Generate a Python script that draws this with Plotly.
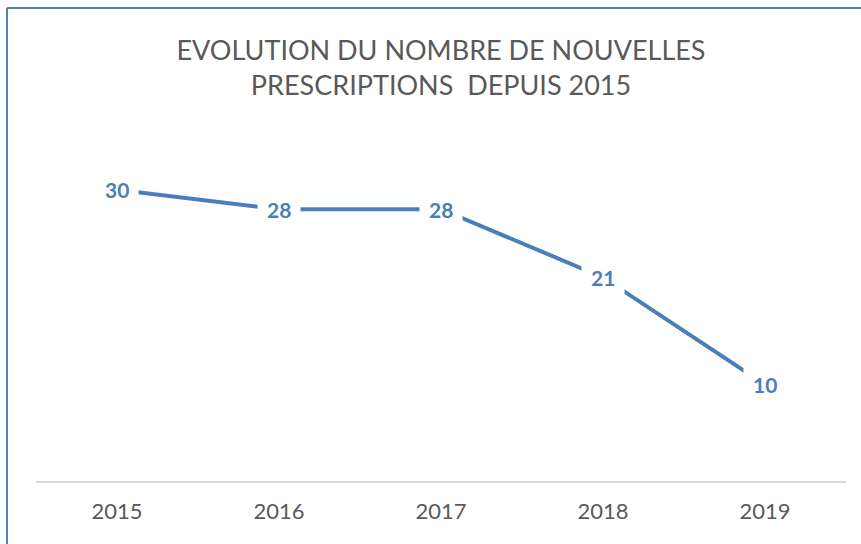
import plotly.graph_objects as go

years = ["2015", "2016", "2017", "2018", "2019"]
prescriptions = [30, 28, 28, 21, 10]

title_lines = ["EVOLUTION DU NOMBRE DE NOUVELLES", "PRESCRIPTIONS  DEPUIS 2015"]

line_color = "#4A7EBB"
text_gray = "#595959"
font_family = "Lato, 'Open Sans', sans-serif"

fig = go.Figure()
fig.add_trace(go.Scatter(
    x=years, y=prescriptions, mode="lines",
    line=dict(color=line_color, width=4),
    hoverinfo="skip", showlegend=False,
))

# value labels centred on the points, on a white box that cuts the line
# (category index used as x so numeric-looking year names are not read as positions)
for i, v in enumerate(prescriptions):
    fig.add_annotation(
        x=i, y=v, xref="x", yref="y", text=f"<b>{v}</b>",
        showarrow=False, bgcolor="white", borderpad=9,
        font=dict(family=font_family, size=21, color=line_color),
    )

# chart frame (top and left edges visible)
fig.add_shape(type="line", xref="paper", yref="paper",
              x0=(7 - 36) / 810, x1=1.2, y0=(482 - 8) / 341, y1=(482 - 8) / 341,
              line=dict(color="#4F81BD", width=2))
fig.add_shape(type="line", xref="paper", yref="paper",
              x0=(7 - 36) / 810, x1=(7 - 36) / 810, y0=(482 - 8) / 341, y1=-0.3,
              line=dict(color="#4F81BD", width=2))

fig.update_layout(
    width=861, height=544,
    margin=dict(l=36, r=15, t=141, b=62),
    paper_bgcolor="white", plot_bgcolor="white",
    title=dict(
        text="<br>".join(title_lines),
        x=0.5, xref="paper", xanchor="center",
        y=1 - 60 / 544, yref="container", yanchor="top",
        font=dict(family=font_family, size=27, color=text_gray),
    ),
    xaxis=dict(
        type="category", range=[-0.5, 4.5],
        showgrid=False, zeroline=False,
        showline=False, ticks="",
        tickfont=dict(family=font_family, size=22, color=text_gray),
        ticklabelstandoff=14,
    ),
    yaxis=dict(
        range=[0, 35], showgrid=False, zeroline=True,
        zerolinecolor="#D9D9D9", zerolinewidth=2,
        showticklabels=False, showline=False,
    ),
)

fig.write_html("out.html")
